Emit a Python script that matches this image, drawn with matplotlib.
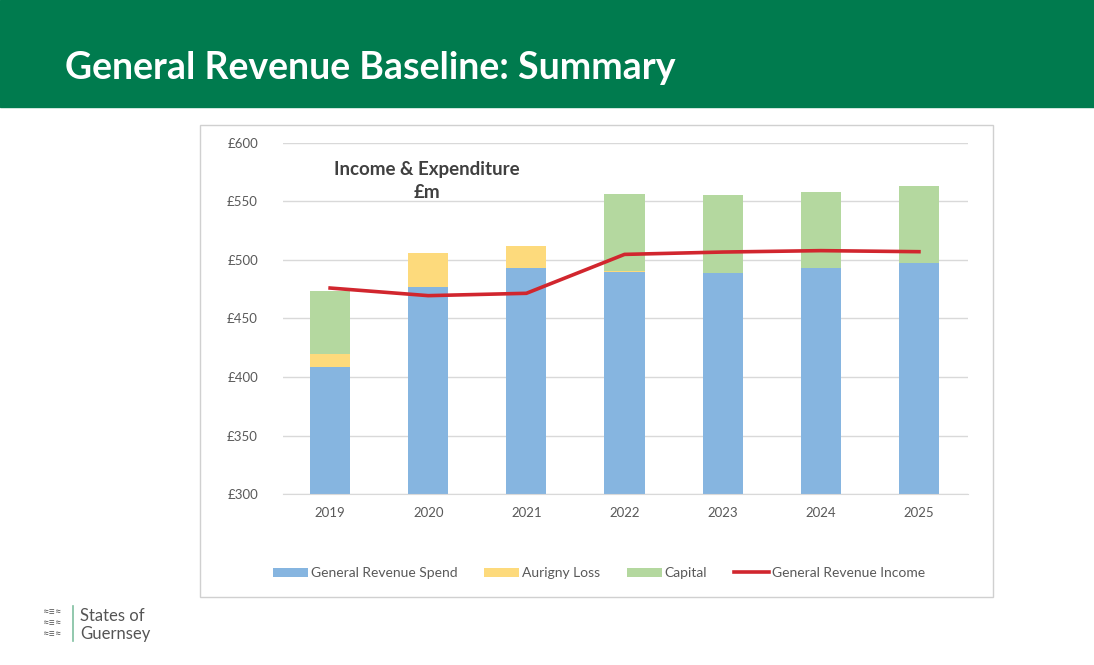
import matplotlib.pyplot as plt
from matplotlib.patches import Rectangle
import numpy as np

years = ['2019', '2020', '2021', '2022', '2023', '2024', '2025']
spend = [409, 477, 493, 489.5, 489, 492.8, 497]
aurigny = [10.5, 29, 19, 0.8, 0, 0, 0]
capital = [54, 0, 0, 65.7, 66.4, 65.2, 66]
income = [476, 469.5, 471.5, 504.7, 506.7, 507.9, 507]

c_blue = '#86B5E0'
c_yellow = '#FDDA7C'
c_green = '#B4D89F'
c_red = '#D1262E'
c_text = '#595959'

plt.rcParams['font.family'] = ['Lato', 'DejaVu Sans']

fig = plt.figure(figsize=(10.94, 6.65), dpi=100)
W, H = 1094, 665

# green header band
fig.patches.append(Rectangle((0, 1 - 107 / H), 1, 107 / H, transform=fig.transFigure,
                             color='#007B4E', zorder=0))
fig.text(65 / W, 1 - 68 / H, 'General Revenue Baseline: Summary', color='white',
         fontsize=27, fontweight='bold', va='center', ha='left')

# chart frame
fig.patches.append(Rectangle((200 / W, 1 - 597 / H), 793 / W, 472 / H, transform=fig.transFigure,
                             facecolor='white', edgecolor='#D0D0D0', linewidth=1, zorder=0))

ax = fig.add_axes([283 / W, 1 - 494.3 / H, 685 / W, 351.6 / H])
ax.set_zorder(5)
ax.patch.set_alpha(0)
x = np.arange(len(years))
bw = 0.41
spend_a = np.array(spend)
aur_a = np.array(aurigny)
cap_a = np.array(capital)
b1 = ax.bar(x, spend_a, bw, color=c_blue, label='General Revenue Spend', zorder=2)
b2 = ax.bar(x, aur_a, bw, bottom=spend_a, color=c_yellow, label='Aurigny Loss', zorder=2)
b3 = ax.bar(x, cap_a, bw, bottom=spend_a + aur_a, color=c_green, label='Capital', zorder=2)
l1, = ax.plot(x, income, color=c_red, linewidth=2.6, label='General Revenue Income', zorder=3)

ax.set_ylim(300, 600)
ax.set_xlim(-0.48, 6.5)
ax.set_yticks(range(300, 601, 50))
ax.set_yticklabels(['£%d' % v for v in range(300, 601, 50)])
ax.set_xticks(x)
ax.set_xticklabels(years)
ax.tick_params(length=0, colors=c_text, labelsize=9.5)
ax.tick_params(axis='y', pad=18)
ax.tick_params(axis='x', pad=9)
ax.yaxis.grid(True, color='#D9D9D9', linewidth=1, zorder=0)
ax.set_axisbelow(True)
for s in ax.spines.values():
    s.set_visible(False)
ax.spines['bottom'].set_visible(True)
ax.spines['bottom'].set_color('#D9D9D9')

fig.text(427 / W, 1 - 169 / H, 'Income & Expenditure', ha='center', va='center',
         fontsize=13.5, fontweight='bold', color='#404040')
fig.text(427 / W, 1 - 193 / H, '£m', ha='center', va='center',
         fontsize=13.5, fontweight='bold', color='#404040')

fig.legend(handles=[b1, b2, b3, l1], loc='center', bbox_to_anchor=(599 / W, 1 - 573 / H),
           ncol=4, frameon=False, fontsize=10, handlelength=2.5, handleheight=0.6,
           columnspacing=1.95, handletextpad=0.2, labelcolor=c_text)

# logo text
fig.add_artist(plt.Line2D([73 / W, 73 / W], [1 - 641 / H, 1 - 606 / H], color='#7FBF9F',
                          linewidth=1.2, transform=fig.transFigure))
fig.text(80 / W, 1 - 616 / H, 'States of', fontsize=12, color='#555555', va='center')
fig.text(80 / W, 1 - 634 / H, 'Guernsey', fontsize=12, color='#555555', va='center')
for yy in [612, 623, 634]:
    fig.text(52 / W, 1 - yy / H, '≈≡≈', fontsize=8, color='#555555', ha='center', va='center')

fig.savefig('out.png', dpi=100)
